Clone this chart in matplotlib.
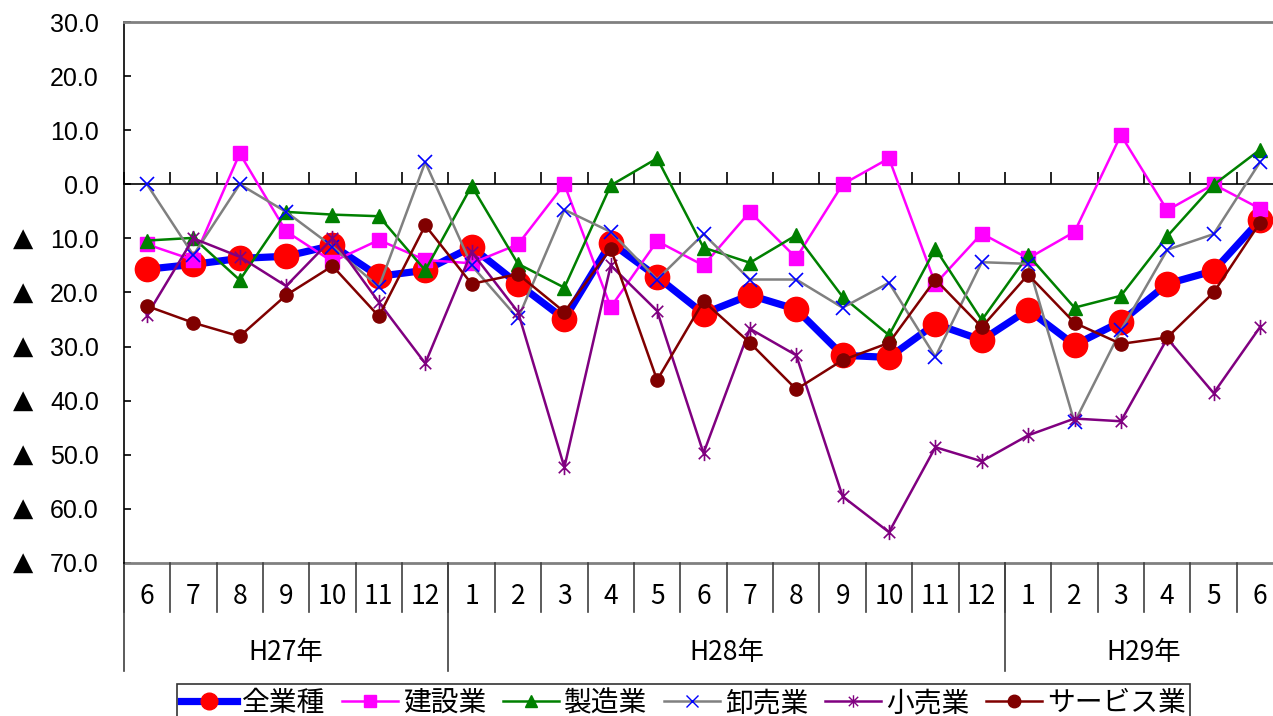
import matplotlib
matplotlib.use('Agg')
import matplotlib.pyplot as plt
import numpy as np
from matplotlib.path import Path
from matplotlib.lines import Line2D
from matplotlib.transforms import blended_transform_factory

plt.rcParams['font.family'] = ['Noto Sans CJK JP', 'DejaVu Sans']

# months H27/6 - H29/6
months = ['6', '7', '8', '9', '10', '11', '12',
          '1', '2', '3', '4', '5', '6', '7', '8', '9', '10', '11', '12',
          '1', '2', '3', '4', '5', '6']
years = ['H27年', 'H28年', 'H29年']
year_counts = [7, 12, 6]

all_ind = [-15.7, -14.8, -13.7, -13.3, -11.3, -17.0, -15.9,
           -11.6, -18.4, -24.9, -10.8, -17.1, -23.9, -20.5, -23.1, -31.6, -32.0, -25.8, -28.8,
           -23.2, -29.7, -25.4, -18.4, -16.0, -6.6]
construction = [-11.1, -14.0, 5.7, -8.7, -14.3, -10.3, -14.0,
                -14.6, -11.1, 0.0, -22.7, -10.5, -15.0, -5.1, -13.6, 0.0, 4.8, -18.4, -9.1,
                -13.7, -8.8, 9.1, -4.8, 0.0, -4.5]
manufacturing = [-10.4, -9.9, -17.7, -5.1, -5.6, -5.9, -15.9,
                 -0.3, -14.7, -19.1, -0.2, 4.8, -11.7, -14.5, -9.4, -20.8, -27.9, -11.9, -25.1,
                 -13.1, -22.8, -20.6, -9.6, -0.1, 6.4]
wholesale = [0.0, -13.1, 0.0, -5.1, -11.5, -19.0, 4.1,
             -15.0, -24.8, -4.7, -8.8, -17.6, -9.2, -17.6, -17.6, -22.8, -18.2, -31.9, -14.4,
             -14.7, -44.0, -27.0, -12.1, -9.2, 4.1]
retail = [-24.2, -10.0, -13.4, -18.8, -10.0, -21.8, -33.1,
          -12.5, -23.6, -52.3, -15.0, -23.4, -49.7, -26.7, -31.6, -57.7, -64.3, -48.6, -51.2,
          -46.4, -43.3, -43.8, -28.5, -38.6, -26.4]
services = [-22.5, -25.6, -28.1, -20.5, -15.1, -24.4, -7.6,
            -18.4, -16.6, -23.6, -11.9, -36.2, -21.6, -29.3, -37.9, -32.5, -29.3, -17.6, -26.4,
            -16.7, -25.6, -29.5, -28.3, -20.0, -7.1]

W, H = 1273, 716
fig = plt.figure(figsize=(W / 100, H / 100), dpi=100)
left, right, top, bottom = 123.8, 1283.2, 22, 563
ax = fig.add_axes([left / W, 1 - bottom / H, (right - left) / W, (bottom - top) / H])

x = np.arange(len(months))

# excel-like star: X plus vertical bar
star = Path([(0, -1), (0, 1), (-0.75, -0.75), (0.75, 0.75), (-0.75, 0.75), (0.75, -0.75)],
            [Path.MOVETO, Path.LINETO, Path.MOVETO, Path.LINETO, Path.MOVETO, Path.LINETO])

series = [
    ('全業種', all_ind, dict(color='#0000FF', lw=5.2, marker='o', ms=17.5, mfc='#FF0000', mec='#FF0000')),
    ('建設業', construction, dict(color='#FF00FF', lw=1.8, marker='s', ms=10, mfc='#FF00FF', mec='#FF00FF')),
    ('製造業', manufacturing, dict(color='#008000', lw=1.8, marker='^', ms=10.5, mfc='#008000', mec='#008000')),
    ('卸売業', wholesale, dict(color='#808080', lw=1.8, marker='x', ms=10, mec='#0000FF', mew=1.2)),
    ('小売業', retail, dict(color='#800080', lw=1.8, marker=star, ms=11, mfc='none', mec='#800080', mew=1.2)),
    ('サービス業', services, dict(color='#800000', lw=1.8, marker='o', ms=9.5, mfc='#800000', mec='#800000')),
]
for i, (name, vals, kw) in enumerate(series):
    ax.plot(x, vals, zorder=3 + i, **kw)

ax.set_xlim(-0.5, len(months) - 0.5)
ax.set_ylim(-70, 30)

# axis frame
ax.spines['right'].set_visible(False)
ax.spines['top'].set_color('#808080')
ax.spines['top'].set_linewidth(2)
ax.spines['left'].set_color('black')
ax.spines['left'].set_linewidth(1.2)
ax.spines['bottom'].set_position(('data', 0))
ax.spines['bottom'].set_color('black')
ax.spines['bottom'].set_linewidth(1.2)
ax.axhline(-70, color='#808080', lw=2, clip_on=False, zorder=2)

ax.set_xticks(np.arange(len(months) + 1) - 0.5)
ax.set_xticklabels([])
ax.tick_params(axis='x', direction='in', length=9, width=1.2, color='black')

yt = np.arange(-70, 31, 10)
ax.set_yticks(yt)
ax.set_yticklabels(['%.1f' % abs(v) for v in yt], fontsize=18, family=['Liberation Sans'])
ax.tick_params(axis='y', direction='in', length=5, width=1.2, pad=18)
ytr = blended_transform_factory(fig.transFigure, ax.transData)
for v in yt:
    if v < 0:
        ax.text(23 / W, v, '▲', transform=ytr, ha='center', va='center', fontsize=19,
                family=['DejaVu Sans'])

# category table below the plot
btr = blended_transform_factory(ax.transData, fig.transFigure)
def fy(py):
    return 1 - py / H

for i, m in enumerate(months):
    ax.text(i, fy(597), m, transform=btr, ha='center', va='center', fontsize=19)
for b in range(len(months) + 1):
    ax.plot([b - 0.5, b - 0.5], [fy(563), fy(612)], transform=btr, color='#404040',
            lw=1.2, clip_on=False)
start = 0
for name, n in zip(years, year_counts):
    ax.plot([start - 0.5, start - 0.5], [fy(563), fy(671)], transform=btr, color='#404040',
            lw=1.2, clip_on=False)
    ax.text(start + (n - 1) / 2, fy(652), name, transform=btr, ha='center', va='center',
            fontsize=19)
    start += n

# legend
handles = []
leg_kw = [
    dict(color='#0000FF', lw=5.2, marker='o', ms=12, mfc='#FF0000', mec='#FF0000'),
    dict(color='#FF00FF', lw=1.8, marker='s', ms=9, mfc='#FF00FF', mec='#FF00FF'),
    dict(color='#008000', lw=1.8, marker='^', ms=9, mfc='#008000', mec='#008000'),
    dict(color='#808080', lw=1.8, marker='x', ms=8, mec='#0000FF', mew=1.0),
    dict(color='#800080', lw=1.8, marker=star, ms=9, mfc='none', mec='#800080', mew=1.0),
    dict(color='#800000', lw=1.8, marker='o', ms=9, mfc='#800000', mec='#800000'),
]
for kw in leg_kw:
    handles.append(Line2D([], [], **kw))
leg = fig.legend(handles, [s[0] for s in series], ncol=6, loc='upper left',
                 bbox_to_anchor=(177 / W, fy(684)), frameon=True, fancybox=False,
                 edgecolor='black', fontsize=20, borderaxespad=0, borderpad=0.15,
                 handlelength=2.0, handletextpad=0.2, columnspacing=0.6)
leg.get_frame().set_linewidth(1.2)

fig.savefig('out.png', dpi=100)
